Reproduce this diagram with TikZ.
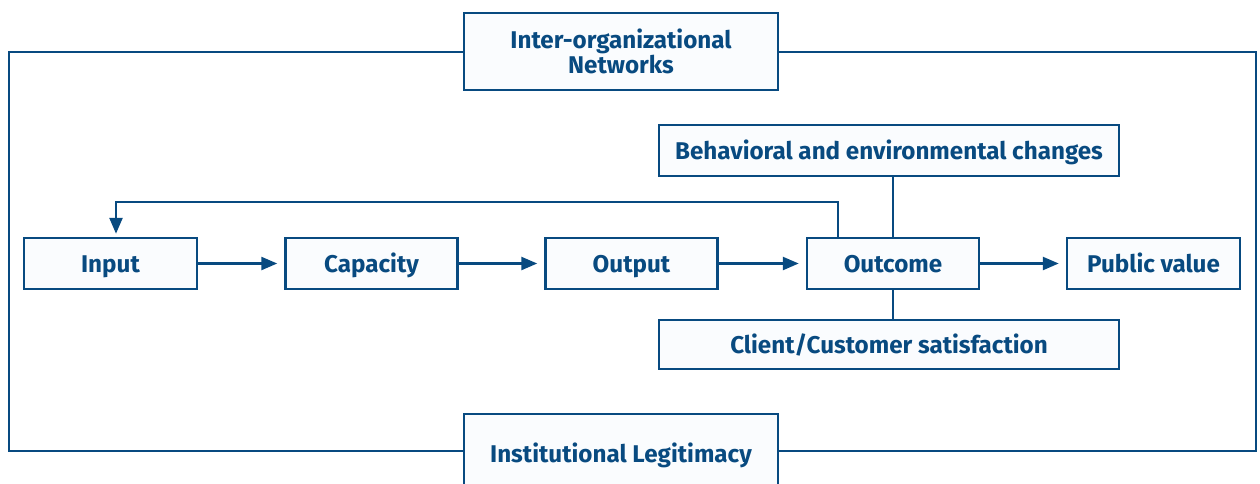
\documentclass[tikz,border=0pt]{standalone}
\usepackage{fontspec}
\setmainfont{Fira Sans}
\usetikzlibrary{arrows.meta}
\definecolor{navy}{RGB}{8,74,128}
\definecolor{boxfill}{RGB}{250,252,254}
\tikzset{
  box/.style={draw=navy, line width=2.5pt, fill=boxfill, text=navy, inner sep=0pt,
    font=\fontsize{24.2}{26}\selectfont\bfseries, align=center},
  one/.style={text height=22pt, text depth=5pt},
  flow/.style={draw=navy, line width=2.5pt, -{Triangle[length=16pt,width=13pt]}, shorten >=7pt},
  link/.style={draw=navy, line width=2.5pt}
}
\begin{document}
\begin{tikzpicture}[x=1pt,y=-1pt]
\useasboundingbox (0,0) rectangle (1260,483);
\draw[link] (9,52) rectangle (1256,451);
\node[box, minimum width=314pt, minimum height=77pt] (net) at (621,51.5) {Inter-organizational\\[-1pt]Networks};
\node[box, one, minimum width=314pt, minimum height=80pt] (leg) at (621,454) {Institutional Legitimacy};
\node[box, one, minimum width=173pt, minimum height=51pt] (input) at (110.5,263.5) {Input};
\node[box, one, minimum width=172pt, minimum height=51pt] (capacity) at (371.5,263.5) {Capacity};
\node[box, one, minimum width=172pt, minimum height=51pt] (output) at (631.5,263.5) {Output};
\node[box, one, minimum width=172pt, minimum height=51pt] (outcome) at (893,263.5) {Outcome};
\node[box, one, minimum width=173pt, minimum height=51pt] (public) at (1153.5,263.5) {Public value};
\node[box, one, minimum width=460pt, minimum height=51pt] (behav) at (889,150.5) {Behavioral and environmental changes};
\node[box, one, minimum width=460pt, minimum height=49pt] (client) at (889,344.5) {Client/Customer satisfaction};
\draw[flow] (input) -- (capacity);
\draw[flow] (capacity) -- (output);
\draw[flow] (output) -- (outcome);
\draw[flow] (outcome) -- (public);
\draw[link] (outcome.north) -- (outcome.north |- behav.south);
\draw[link] (outcome.south) -- (outcome.south |- client.north);
\draw[flow, shorten >=3pt] ([xshift=-55pt]outcome.north) |- ++(0,-35) -| ([xshift=5.5pt]input.north);
\end{tikzpicture}
\end{document}
